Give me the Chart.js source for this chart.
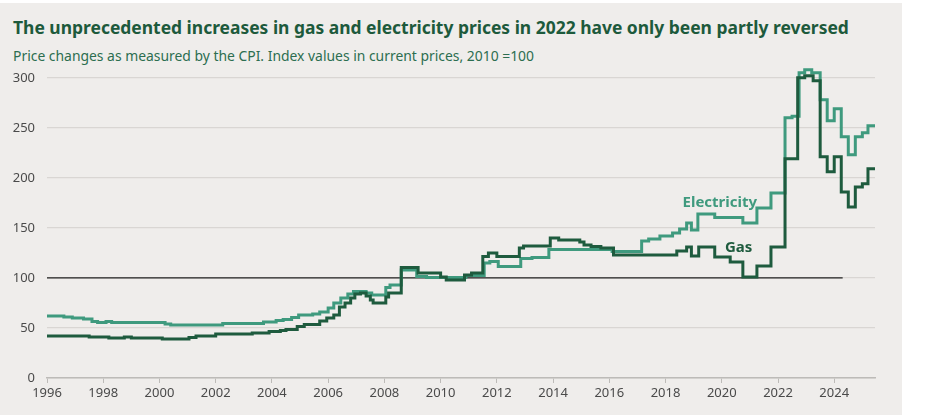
<!DOCTYPE html>
<html>
<head>
<meta charset="utf-8">
<script src="https://cdn.jsdelivr.net/npm/chart.js@4.4.1/dist/chart.umd.min.js"></script>
<style>
  html, body { margin: 0; padding: 0; background: #ffffff; width: 926px; height: 420px; overflow: hidden; }
  #panel { position: absolute; left: 0; top: 3px; width: 902px; height: 412px; background: #efedeb; }
  #title { position: absolute; left: 13px; top: 12px; font: 700 17.45px "Noto Sans", sans-serif; color: #1d5a3c; white-space: nowrap; }
  #subtitle { position: absolute; left: 13px; top: 43px; font: 400 13.9px "Noto Sans", sans-serif; color: #2c6e50; white-space: nowrap; }
  #wrap { position: absolute; left: 0; top: 45px; width: 902px; height: 367px; }
</style>
</head>
<body>
<div id="panel">
  <div id="title">The unprecedented increases in gas and electricity prices in 2022 have only been partly reversed</div>
  <div id="subtitle">Price changes as measured by the CPI. Index values in current prices, 2010 =100</div>
  <div id="wrap"><canvas id="chart"></canvas></div>
</div>
<script>
// Données (date décimale -> indice, 2010 = 100)
const electricityDates = [
  1996.0, 1996.6, 1996.9, 1997.3, 1997.6, 1997.8, 1998.1, 1998.3, 2000.2, 2000.4,
  2002.25, 2003.7, 2004.15, 2004.4, 2004.7, 2004.95, 2005.45, 2005.7, 2006.0, 2006.2,
  2006.45, 2006.7, 2006.9, 2007.35, 2007.55, 2008.05, 2008.2, 2008.6, 2009.15, 2009.5,
  2010.9, 2011.55, 2011.75, 2012.05, 2012.85, 2013.25, 2013.85, 2016.1, 2017.15, 2017.4,
  2017.8, 2018.25, 2018.5, 2018.75, 2018.92, 2019.15, 2019.75, 2020.75, 2021.25, 2021.75,
  2022.25, 2022.5, 2022.75, 2022.95, 2023.2, 2023.5, 2023.75, 2024.0, 2024.25, 2024.5,
  2024.75, 2025.0, 2025.2, 2025.45
];
const electricityValues = [
  62, 61, 60, 59, 56.5, 55.5, 56.5, 55.5, 54, 53,
  54.5, 56, 57.5, 58.5, 60.5, 63, 64, 66, 70, 75,
  80, 84, 86.5, 85, 83, 90.5, 93, 108, 101.5, 100.5,
  102.5, 115, 116.5, 111.5, 119.5, 120.5, 128.5, 126.5, 137, 139,
  142, 145, 149, 155, 148, 164, 160.5, 155, 170, 185,
  260, 261.5, 305, 308, 305, 278, 257, 269, 241, 223,
  241, 245, 252, 252
];

const gasDates = [
  1996.0, 1997.5, 1998.2, 1998.75, 1999.0, 2000.1, 2001.05, 2001.3, 2002.0, 2003.3,
  2003.9, 2004.3, 2004.5, 2004.9, 2005.15, 2005.7, 2005.95, 2006.2, 2006.4, 2006.6,
  2006.8, 2006.95, 2007.15, 2007.35, 2007.5, 2007.6, 2008.05, 2008.15, 2008.6, 2009.2,
  2010.0, 2010.2, 2010.85, 2011.1, 2011.5, 2011.7, 2012.0, 2012.8, 2012.95, 2013.9,
  2014.2, 2014.95, 2015.1, 2015.35, 2015.7, 2016.15, 2018.4, 2018.75, 2018.92, 2019.18,
  2019.75, 2020.3, 2020.75, 2021.25, 2021.75, 2022.25, 2022.7, 2022.95, 2023.25, 2023.5,
  2023.75, 2024.0, 2024.25, 2024.5, 2024.75, 2025.0, 2025.2, 2025.45
];
const gasValues = [
  42, 41, 40, 41, 40, 39, 40.5, 42, 44, 45,
  46.5, 47.5, 48.5, 51.5, 53.5, 57, 60, 63, 71, 75,
  80, 84, 85, 82, 78, 75, 81, 85, 110.5, 105,
  101, 98, 103, 105, 121.5, 125, 121.5, 130, 132, 140,
  138, 136, 133, 131.5, 130, 123, 127, 131, 122, 131,
  121, 116, 101, 112, 131, 219, 300, 302, 297, 221,
  206, 221, 186, 171, 191, 194, 209, 209
];

// Ligne de référence 2010 = 100
const refDates = [1996.0, 2024.3];
const refValues = [100, 100];

const xTickValues = [1996, 1998, 2000, 2002, 2004, 2006, 2008, 2010, 2012, 2014, 2016, 2018, 2020, 2022, 2024];
const yTickValues = [0, 50, 100, 150, 200, 250, 300];

const colors = {
    electricity: '#3f9a7e',
    gas: '#1e5b3e',
    ref: '#222222',
    grid: '#d9d6d3',
    axis: '#bdbbb8',
    tick: '#4a4a4a'
};

function toPoints(dates, values) {
    return dates.map((x, i) => ({ x: x, y: values[i] }));
}

// Étiquettes des séries posées à côté des courbes
const seriesLabels = {
    id: 'seriesLabels',
    afterDatasetsDraw(chart) {
        const { ctx, scales } = chart;
        ctx.save();
        ctx.font = '700 15px "Noto Sans", sans-serif';
        ctx.textAlign = 'center';
        ctx.textBaseline = 'middle';
        ctx.fillStyle = colors.electricity;
        ctx.fillText('Electricity', scales.x.getPixelForValue(2019.93), scales.y.getPixelForValue(175));
        ctx.fillStyle = colors.gas;
        ctx.fillText('Gas', scales.x.getPixelForValue(2020.6), scales.y.getPixelForValue(130));
        ctx.restore();
    }
};

const ctx = document.getElementById('chart').getContext('2d');
new Chart(ctx, {
    type: 'line',
    data: {
        datasets: [
            {
                label: 'Reference',
                data: toPoints(refDates, refValues),
                borderColor: colors.ref,
                borderWidth: 1.3,
                pointRadius: 0,
                fill: false,
                order: 3
            },
            {
                label: 'Electricity',
                data: toPoints(electricityDates, electricityValues),
                borderColor: colors.electricity,
                borderWidth: 3,
                pointRadius: 0,
                stepped: true,
                fill: false,
                order: 2
            },
            {
                label: 'Gas',
                data: toPoints(gasDates, gasValues),
                borderColor: colors.gas,
                borderWidth: 3,
                pointRadius: 0,
                stepped: true,
                fill: false,
                order: 1
            }
        ]
    },
    options: {
        responsive: true,
        maintainAspectRatio: false,
        animation: false,
        layout: { padding: { left: 0, right: 27, top: 0, bottom: 0 } },
        plugins: {
            legend: { display: false },
            tooltip: { enabled: false },
            title: { display: false }
        },
        scales: {
            x: {
                type: 'linear',
                min: 1996,
                max: 2025.45,
                afterBuildTicks: (axis) => { axis.ticks = xTickValues.map(v => ({ value: v })); },
                afterFit: (axis) => { axis.height = 37; },
                grid: {
                    drawOnChartArea: false,
                    drawTicks: true,
                    tickLength: 5,
                    color: colors.axis
                },
                border: { display: true, color: colors.axis, width: 1.5 },
                ticks: {
                    color: colors.tick,
                    font: { family: '"Noto Sans", sans-serif', size: 13 },
                    padding: 2,
                    maxRotation: 0,
                    autoSkip: false,
                    callback: (v) => String(v)
                }
            },
            y: {
                type: 'linear',
                min: 0,
                max: 310,
                afterBuildTicks: (axis) => { axis.ticks = yTickValues.map(v => ({ value: v })); },
                afterFit: (axis) => { axis.width = 47; },
                grid: {
                    drawTicks: false,
                    color: colors.grid,
                    lineWidth: 1.2
                },
                border: { display: false },
                ticks: {
                    color: colors.tick,
                    font: { family: '"Noto Sans", sans-serif', size: 13 },
                    padding: 12,
                    callback: (v) => String(v)
                }
            }
        }
    },
    plugins: [seriesLabels]
});
</script>
</body>
</html>
